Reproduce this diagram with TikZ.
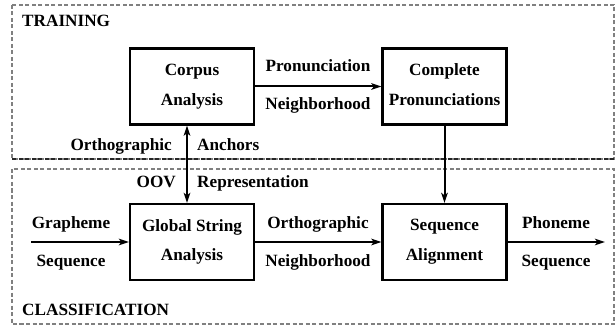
\documentclass[tikz,border=0pt]{standalone}
\usepackage{fontspec}
\setmainfont{Liberation Serif}
\usetikzlibrary{arrows.meta}
\newcommand\dstrut{\rule[-3.8pt]{0pt}{3.8pt}}
\begin{document}
\begin{tikzpicture}[x=1pt,y=-1pt,
  every node/.style={font=\fontsize{17.2}{29.6}\selectfont\bfseries, inner sep=0pt},
  proc/.style={draw, line width=2.3pt, minimum width=124pt, minimum height=76pt, align=center},
  tipA/.tip={Stealth[length=10pt,width=6.5pt,inset=2.5pt]},
  conn/.style={line width=2pt, -tipA},
  dconn/.style={line width=2pt, tipA-tipA},
  region/.style={draw=gray, dash pattern=on 4pt off 2.5pt, line width=1.1pt},
  lbl/.style={anchor=base}]
\useasboundingbox (0,0) rectangle (616,326);
% regions
\draw[region] (12,5) rectangle (614,159);
\draw[region, draw=black!85] (12,159) -- (614,159);
\draw[region] (12,169) rectangle (614,324);
\node[anchor=base west] (training) at (22,26.7) {TRAINING};
\node[anchor=base west] (classif) at (22,315) {CLASSIFICATION};
% process boxes
\node[proc] (corpus) at (192,86.5) {Corpus\\Analysis\dstrut};
\node[proc] (complete) at (444.5,86.5) {Complete\\Pronunciations\dstrut};
\node[proc] (global) at (192,242) {Global String\\Analysis\dstrut};
\node[proc] (seq) at (444.5,242) {Sequence\\Alignment\dstrut};
% free ends
\coordinate (gin) at (31,242);
\coordinate (pout) at (605,242);
% connectors
\draw[conn] (corpus) -- (complete);
\draw[conn] (complete) -- (seq);
\draw[conn] (global) -- (seq);
\draw[conn] (gin) -- (global.west);
\draw[conn] (seq.east) -- (pout);
\draw[dconn] ([xshift=-5pt]corpus.south) -- ([xshift=-5pt]global.north);
% labels
\node[lbl] (l1) at (318,72) {Pronunciation};
\node[lbl] (l2) at (318,110) {Neighborhood};
\node[lbl] (l3) at (318,228) {Orthographic};
\node[lbl] (l4) at (318,266) {Neighborhood};
\node[lbl] (l5) at (71,228) {Grapheme};
\node[lbl] (l6) at (71,266) {Sequence};
\node[lbl] (l7) at (556,228) {Phoneme};
\node[lbl] (l8) at (556,266) {Sequence};
\node[anchor=base east] (l9) at (172,150) {Orthographic};
\node[anchor=base west] (l10) at (197,150) {Anchors};
\node[anchor=base east] (l11) at (176,188) {OOV};
\node[anchor=base west] (l12) at (197,188) {Representation};
\end{tikzpicture}
\end{document}
